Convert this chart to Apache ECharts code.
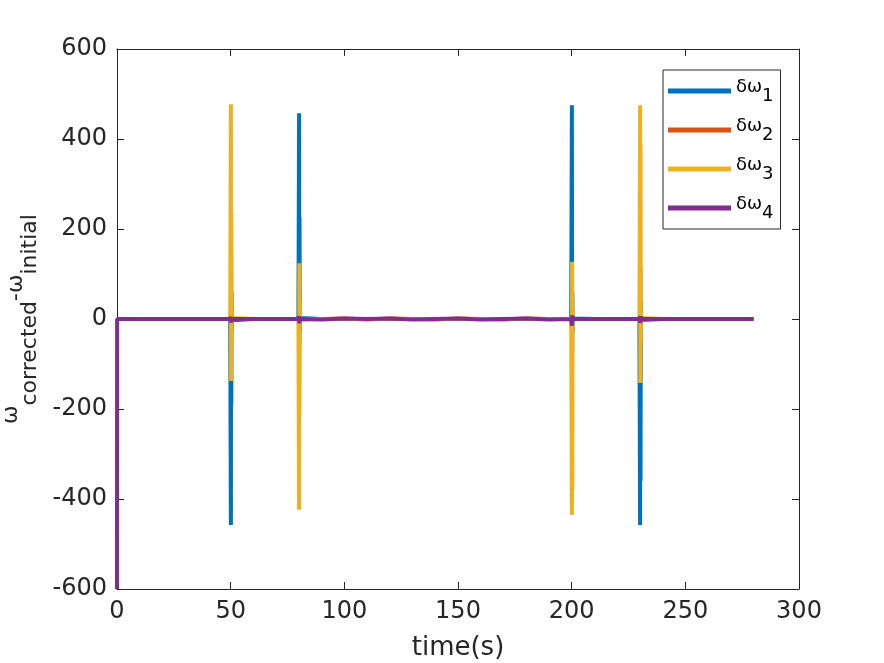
<!DOCTYPE html>
<html>
<head>
<meta charset="utf-8">
<script src="https://cdn.jsdelivr.net/npm/echarts@6/dist/echarts.min.js"></script>
<style>
html,body{margin:0;padding:0;background:#fff;}
#c{width:884px;height:663px;}
</style>
</head>
<body>
<div id="c"></div>
<script>
// shared sample times (s)
const time = [
  0, 0.05, 10, 20, 30, 40, 49.8,
  50.0, 50.1, 50.2, 50.3, 50.4, 50.5, 50.6, 50.7, 51.5,
  60, 70, 79.8,
  80.0, 80.1, 80.2, 80.3, 80.4, 80.5, 80.6, 80.7, 81.5,
  90, 100, 110, 120, 130, 140, 150, 160, 170, 180, 190, 199.8,
  200.0, 200.1, 200.2, 200.3, 200.4, 200.5, 200.6, 200.7, 201.5,
  210, 220, 229.8,
  230.0, 230.1, 230.2, 230.3, 230.4, 230.5, 230.6, 230.7, 231.5,
  240, 250, 260, 270, 280
];
const dw1 = [
  0, 0, 0, 0, 0, 0, 0,
  0, -458, 146, -190, 60, -25, 10, -3, 0,
  0, 0, 0,
  0, 457, -55, 226, -30, 15, -5, 2, 0,
  0, 0, 0, 0, 0, 0, 0, 0, 0, 0, 0, 0,
  0, 475, -80, 60, -30, 10, -4, 1, 0,
  0, 0, 0,
  0, -458, 116, -360, 40, -15, 5, -2, 0,
  0, 0, 0, 0, 0
];
const dw2 = [
  0, 0, 0, 0, 0, 0, 0,
  0, 4, -3, 2, -1, 1, 0, 0, 0,
  0, 0, 0,
  0, -4, 3, -2, 1, 0, 0, 0, 0,
  0, 1, -1, 1, 0, -1, 1, 0, -1, 1, 0, 0,
  0, 4, -3, 2, -1, 1, 0, 0, 0,
  0, 0, 0,
  0, -4, 3, -2, 1, 0, 0, 0, 0,
  0, 0, 0, 0, 0
];
const dw3 = [
  0, 0, 0, 0, 0, 0, 0,
  0, 477, -138, 235, -60, 20, -6, 2, 0,
  0, 0, 0,
  0, -424, 124, -215, 40, -12, 4, -1, 0,
  0, 0, 0, 0, 0, 0, 0, 0, 0, 0, 0, 0,
  0, -435, 127, -380, 30, -10, 3, -1, 0,
  0, 0, 0,
  0, 475, -142, 390, -50, 15, -5, 2, 0,
  0, 0, 0, 0, 0
];
const dw4 = [
  -600, 0, 0, 0, 0, 0, 0,
  0, 5, -8, 3, -2, 1, 0, 0, 0,
  0, 0, 0,
  0, 6, -10, 4, -2, 1, 0, 1, 0,
  -1, 1, 0, 1, -1, 0, 1, -1, 0, 1, -1, 0,
  0, -15, 8, -5, 2, -1, 0, 0, 0,
  0, 0, 0,
  0, 6, -9, 3, -1, 0, 0, 0, 0,
  0, 0, 0, 0, 0
];
const seriesNames = ['1', '2', '3', '4'];
const seriesValues = [dw1, dw2, dw3, dw4];
const colors = ['#0072BD', '#D95319', '#EDB120', '#7E2F8E'];
const xTicks = {min: 0, max: 300, interval: 50};
const yTicks = {min: -600, max: 600, interval: 200};

const FONT = 'DejaVu Sans';
const TXT = '#262626';

const chart = echarts.init(document.getElementById('c'), null, {renderer: 'canvas'});

const series = seriesValues.map((vals, k) => ({
  name: seriesNames[k],
  type: 'line',
  data: time.map((t, i) => [t, vals[i]]),
  showSymbol: false,
  symbol: 'none',
  lineStyle: {width: 4, color: colors[k]},
  itemStyle: {color: colors[k]},
  clip: true,
  z: 2 + k
}));

const axisCommon = {
  axisLine: {show: true, onZero: false, lineStyle: {color: TXT, width: 1}},
  axisTick: {show: true, inside: true, length: 7, lineStyle: {color: TXT}},
  splitLine: {show: false}
};

chart.setOption({
  animation: false,
  backgroundColor: '#fff',
  grid: {left: 117, right: 85, top: 49, bottom: 74, containLabel: false, outerBoundsMode: 'none'},
  xAxis: [
    Object.assign({
      type: 'value', min: xTicks.min, max: xTicks.max, interval: xTicks.interval,
      name: 'time(s)', nameLocation: 'middle', nameGap: 46,
      nameTextStyle: {fontFamily: FONT, fontSize: 26, color: TXT},
      axisLabel: {fontFamily: FONT, fontSize: 24, color: TXT, margin: 11}
    }, axisCommon),
    Object.assign({
      type: 'value', position: 'top', min: xTicks.min, max: xTicks.max, interval: xTicks.interval,
      axisLabel: {show: false}
    }, axisCommon)
  ],
  yAxis: [
    Object.assign({
      type: 'value', min: yTicks.min, max: yTicks.max, interval: yTicks.interval,
      name: '{w|ω}{s|corrected}{v|-ω}{s|initial}',
      nameLocation: 'middle', nameGap: 50, nameRotate: 90,
      nameTextStyle: {
        fontFamily: FONT, fontSize: 22, color: TXT,
        rich: {
          w: {fontFamily: FONT, fontSize: 22, color: TXT, padding: [0, 0, 19, 0]},
          v: {fontFamily: FONT, fontSize: 22, color: TXT, padding: [0, 0, 9, 0]},
          s: {fontFamily: FONT, fontSize: 22, color: TXT, padding: [19, 0, 0, 0]}
        }
      },
      axisLabel: {fontFamily: FONT, fontSize: 24, color: TXT, margin: 10}
    }, axisCommon),
    Object.assign({
      type: 'value', position: 'right', min: yTicks.min, max: yTicks.max, interval: yTicks.interval,
      axisLabel: {show: false}
    }, axisCommon)
  ],
  legend: {
    orient: 'vertical',
    left: 663, top: 70,
    padding: [7, 7, 7, 5],
    itemGap: 11,
    itemWidth: 63,
    itemHeight: 5,
    icon: 'rect',
    borderColor: TXT, borderWidth: 1,
    backgroundColor: '#fff',
    data: seriesNames.map((n, k) => ({name: n, itemStyle: {color: colors[k]}})),
    formatter: n => '{a|δω}{b|' + n + '}',
    textStyle: {
      fontFamily: FONT, fontSize: 18, color: '#000',
      rich: {
        a: {fontFamily: FONT, fontSize: 18, lineHeight: 20, color: '#000', padding: [0, 0, 8, 0]},
        b: {fontFamily: FONT, fontSize: 18, lineHeight: 20, color: '#000', padding: [10, 0, 0, 0]}
      }
    }
  },
  series: series
});
</script>
</body>
</html>
